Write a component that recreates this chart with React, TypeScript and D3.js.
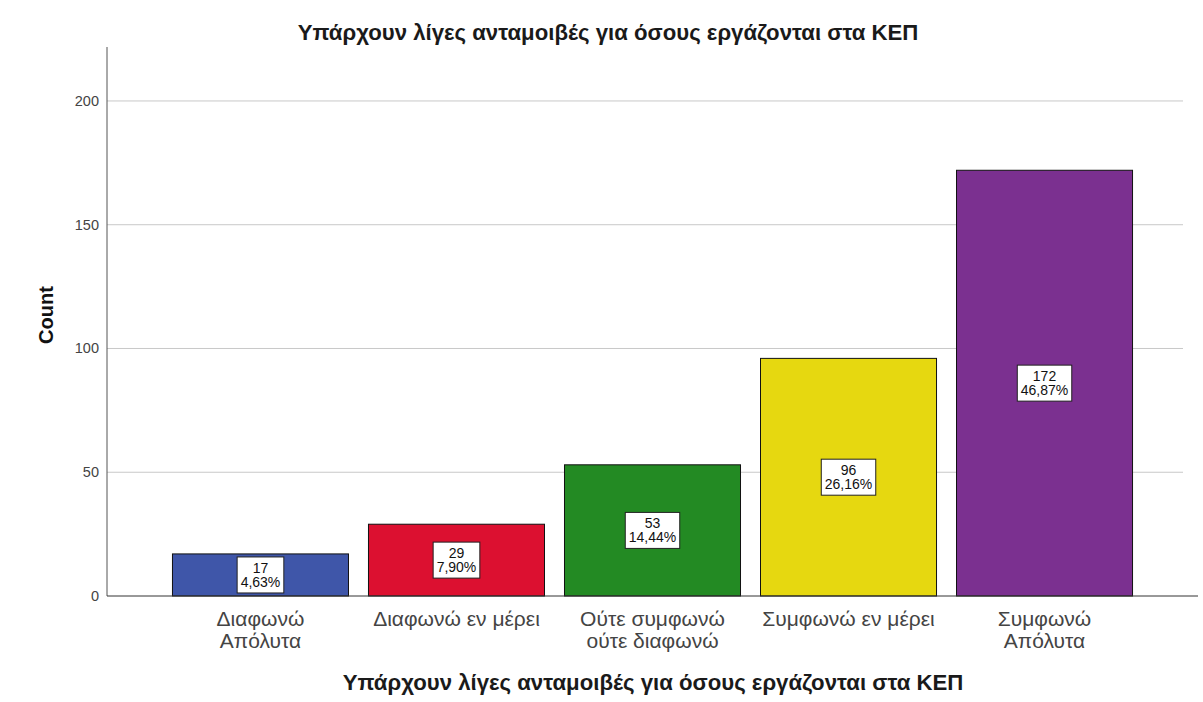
import React from "react";
import * as d3 from "d3";

const categories: string[][] = [
  ["Διαφωνώ", "Απόλυτα"],
  ["Διαφωνώ εν μέρει"],
  ["Ούτε συμφωνώ", "ούτε διαφωνώ"],
  ["Συμφωνώ εν μέρει"],
  ["Συμφωνώ", "Απόλυτα"],
];
const counts = [17, 29, 53, 96, 172];
const percents = ["4,63%", "7,90%", "14,44%", "26,16%", "46,87%"];
const colors = ["#3f56a9", "#dc1030", "#238a23", "#e6d810", "#7b3090"];
const yTicks = [0, 50, 100, 150, 200];
const title = "Υπάρχουν λίγες ανταμοιβές για όσους εργάζονται στα ΚΕΠ";
const yTitle = "Count";

const W = 1203;
const H = 702;
const left = 107;
const right = 1198;
const top = 47;
const bottom = 596;

function textW(s: string, size: number) {
  let w = 0;
  for (const ch of s) {
    if (ch === ",") w += 0.278;
    else if (ch === "%") w += 0.889;
    else w += 0.556;
  }
  return w * size;
}

export default function App() {
  const x = d3
    .scaleBand<number>()
    .domain(counts.map((_, i) => i))
    .range([left, right])
    .paddingInner(0.102)
    .paddingOuter(0.334);
  const y = d3.scaleLinear().domain([0, 221.8]).range([bottom, top]);
  const font = "'Liberation Sans', Arial, sans-serif";

  return (
    <svg
      width={W}
      height={H}
      style={{ position: "absolute", left: 0, top: 0, background: "#fff" }}
      fontFamily={font}
    >
      <rect width={W} height={H} fill="#fff" />
      <text x={608} y={40} textAnchor="middle" fontSize={22.2} fontWeight="bold" fill="#1a1a1a">
        {title}
      </text>
      {yTicks
        .filter((t) => t > 0)
        .map((t) => (
          <line key={t} x1={left} x2={right - 15} y1={y(t)} y2={y(t)} stroke="#c8c8c8" strokeWidth={1} />
        ))}
      {yTicks.map((t) => (
        <text key={t} x={99} y={y(t) + 5} textAnchor="end" fontSize={14.5} fill="#444">
          {t}
        </text>
      ))}
      <line x1={left} x2={left} y1={top} y2={bottom} stroke="#555" />
      {counts.map((c, i) => {
        const bx = x(i)!;
        const bw = x.bandwidth();
        const by = y(c);
        const cy = (by + bottom) / 2;
        const cx = bx + bw / 2;
        const boxW = textW(percents[i], 14) + 7;
        return (
          <g key={i}>
            <rect x={bx} y={by} width={bw} height={bottom - by} fill={colors[i]} stroke="#111" strokeWidth={1} />
            <rect x={cx - boxW / 2} y={cy - 18} width={boxW} height={36} fill="#fff" stroke="#222" strokeWidth={1} />
            <text x={cx} y={cy - 2} textAnchor="middle" fontSize={14} fill="#111">
              {c}
            </text>
            <text x={cx} y={cy + 12} textAnchor="middle" fontSize={14} fill="#111">
              {percents[i]}
            </text>
            {categories[i].map((line, k) => (
              <text key={k} x={cx} y={626 + k * 22} textAnchor="middle" fontSize={21} fill="#444">
                {line}
              </text>
            ))}
          </g>
        );
      })}
      <line x1={left} x2={right} y1={bottom} y2={bottom} stroke="#333" />
      <text
        transform={`translate(53, 315) rotate(-90)`}
        textAnchor="middle"
        fontSize={20}
        fontWeight="bold"
        fill="#111"
      >
        {yTitle}
      </text>
      <text x={653} y={690} textAnchor="middle" fontSize={22.2} fontWeight="bold" fill="#1a1a1a">
        {title}
      </text>
    </svg>
  );
}
